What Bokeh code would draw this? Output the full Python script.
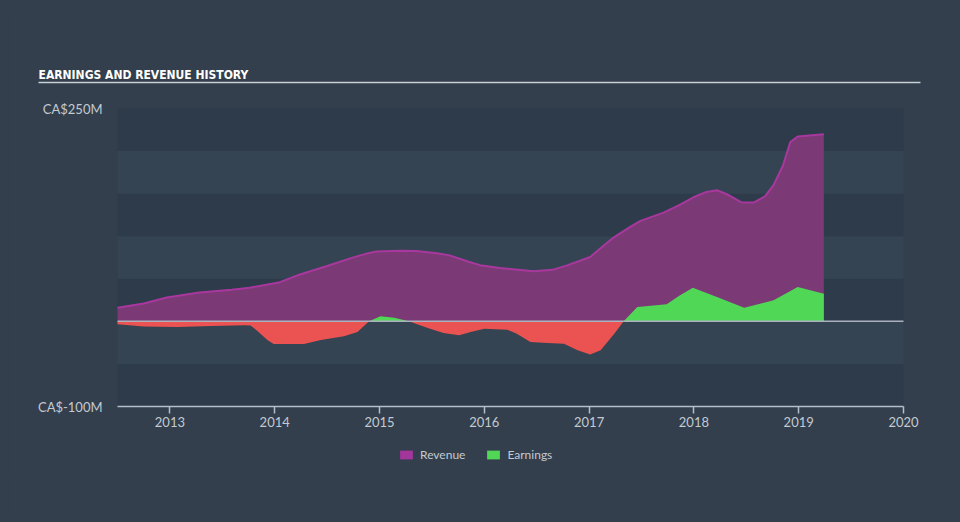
from bokeh.plotting import figure
from bokeh.models import ColumnDataSource, FixedTicker, Legend, LegendItem, LinearAxis
from bokeh.embed import file_html
from bokeh.resources import INLINE
from bokeh.core.properties import value

# ---------------- data ----------------
title_text = "EARNINGS AND REVENUE HISTORY"

rev_years = [2012.50, 2012.75, 2012.97, 2013.28, 2013.59, 2013.76, 2014.05, 2014.24,
             2014.50, 2014.72, 2014.86, 2014.97, 2015.20, 2015.35, 2015.55, 2015.67,
             2015.85, 2015.96, 2016.15, 2016.47, 2016.65, 2016.79, 2017.01, 2017.12,
             2017.24, 2017.38, 2017.49, 2017.71, 2017.85, 2018.00, 2018.12, 2018.22,
             2018.32, 2018.45, 2018.57, 2018.68, 2018.76, 2018.85, 2018.92, 2018.99,
             2019.24]
revenue = [16, 21, 28, 34, 37, 39.5, 46, 55,
           65, 74, 79, 82, 83, 82.5, 80, 77.5,
           70, 66, 62.7, 58.8, 60.5, 65.8, 75.6, 87,
           99, 110, 118, 127.7, 136, 146, 152, 154,
           149, 140, 139.5, 147, 160, 183, 210.7, 217,
           219.7]

earn_years = [2012.50, 2012.75, 2013.07, 2013.39, 2013.71, 2013.77, 2013.83, 2013.93,
              2013.99, 2014.28, 2014.44, 2014.66, 2014.79, 2014.90, 2015.01, 2015.14,
              2015.28, 2015.46, 2015.61, 2015.76, 2015.87, 2016.00, 2016.22, 2016.31,
              2016.44, 2016.60, 2016.76, 2016.89, 2017.01, 2017.11, 2017.24, 2017.33,
              2017.46, 2017.74, 2017.86, 2017.99, 2018.22, 2018.48, 2018.76, 2018.99,
              2019.24]
earnings = [-3.5, -5.9, -6.7, -5.5, -4.7, -5.0, -10.6, -22,
            -26.6, -26.6, -22, -17.6, -12.5, 0, 5.9, 4.3,
            0, -7.8, -13.7, -16.4, -12.5, -8.6, -9.8, -14.5,
            -24.3, -25.5, -26.2, -34, -38.8, -34, -14.5, 0,
            16.8, 20, 30, 39.6, 28.6, 16, 24.7, 40.3,
            32.5]

x_ticks = [2013, 2014, 2015, 2016, 2017, 2018, 2019, 2020]
x_tick_labels = ["2013", "2014", "2015", "2016", "2017", "2018", "2019", "2020"]
y_ticks = [250, -100]
y_tick_labels = ["CA$250M", "CA$-100M"]
band_ticks = [-100, -50, 0, 50, 100, 150, 200, 250]
x_start, x_end = 2012.5, 2020.0
y_start, y_end = -100, 250

# ---------------- styles / geometry ----------------
BG = "#333f4c"
BAND_LIGHT = "#344453"
BAND_DARK = "#2d3b4a"
REV_FILL = "#7b3a75"
REV_LINE = "#a8389e"
REV_LEGEND = "#a2369a"
GREEN = "#50d755"
RED = "#eb5252"
TXT = "#c3cad2"
AXIS = "#b4bfca"
ZERO = "#aab3bd"
FONT = "Lato"

W, H = 944, 506
BOTTOM_BORDER = 40
PLOT_L, PLOT_R = 109, 895          # canvas px of x_start / x_end
PLOT_T, PLOT_B = 100, 398          # canvas px of y_end / y_start
PXX = (PLOT_R - PLOT_L) / (x_end - x_start)
PXY = (PLOT_B - PLOT_T) / (y_end - y_start)
frame_h = H - BOTTOM_BORDER
x_lo = x_start - PLOT_L / PXX
x_hi = x_end + (W - PLOT_R) / PXX
y_hi = y_end + PLOT_T / PXY
y_lo = y_hi - frame_h / PXY


def cx(px):
    return x_lo + px / PXX


def cy(py):
    return y_hi - py / PXY


p = figure(width=W, height=H, x_range=(x_lo, x_hi), y_range=(y_lo, y_hi),
           x_axis_location=None, y_axis_location=None,
           toolbar_location=None, output_backend="svg",
           min_border_left=0, min_border_right=0, min_border_top=0,
           min_border_bottom=BOTTOM_BORDER)
p.background_fill_color = BG
p.border_fill_color = BG
p.outline_line_color = None
p.grid.visible = False

# title + underline
p.text(x=[cx(30)], y=[cy(66)], text=[title_text], text_color="#ffffff",
       text_font=value("DejaVu Sans Condensed"), text_font_style="bold",
       text_font_size="12px", text_baseline="alphabetic", text_align="left")
p.segment(x0=[cx(30)], y0=[cy(74)], x1=[cx(912)], y1=[cy(74)],
          line_color="#c9d0d6", line_width=1.5)

# horizontal bands
b_bottom = band_ticks[:-1]
b_top = band_ticks[1:]
b_color = [BAND_DARK if i % 2 == 0 else BAND_LIGHT for i in range(len(b_bottom))]
p.quad(left=[x_start] * len(b_bottom), right=[x_end] * len(b_bottom),
       bottom=b_bottom, top=b_top, fill_color=b_color, line_color=None)

# y tick labels
p.text(x=[x_start] * len(y_ticks), y=y_ticks, text=y_tick_labels, x_offset=-15,
       text_align="right", text_baseline="middle", text_color=TXT,
       text_font=value(FONT), text_font_size="13px")

# data
rev_src = ColumnDataSource(dict(x=rev_years, y=revenue, z=[0] * len(revenue)))
pos = [max(v, 0) for v in earnings]
neg = [min(v, 0) for v in earnings]
earn_src = ColumnDataSource(dict(x=earn_years, pos=pos, neg=neg, z=[0] * len(earnings)))

p.varea(x="x", y1="z", y2="y", source=rev_src, fill_color=REV_FILL)
p.line(x="x", y="y", source=rev_src, line_color=REV_LINE, line_width=2)
green_r = p.varea(x="x", y1="z", y2="pos", source=earn_src, fill_color=GREEN)
p.varea(x="x", y1="z", y2="neg", source=earn_src, fill_color=RED)
# legend swatch proxy for revenue (zero-height, invisible in the plot)
rev_proxy = p.varea(x="x", y1="y", y2="y", source=rev_src, fill_color=REV_LEGEND)

# zero line and x axis line
p.segment(x0=[x_start, x_start], y0=[0, y_start], x1=[x_end, x_end], y1=[0, y_start],
          line_color=[ZERO, AXIS], line_width=1.5)

xa = LinearAxis(fixed_location=y_start)
xa.ticker = FixedTicker(ticks=x_ticks)
xa.major_label_overrides = {k: v for k, v in zip(x_ticks, x_tick_labels)}
xa.axis_line_color = None
xa.major_tick_line_color = AXIS
xa.major_tick_line_width = 1.5
xa.major_tick_out = 7
xa.major_tick_in = 0
xa.minor_tick_line_color = None
xa.major_label_text_color = TXT
xa.major_label_text_font = FONT
xa.major_label_text_font_size = "13px"
xa.major_label_standoff = 3
p.add_layout(xa, "below")

legend = Legend(items=[LegendItem(label="Revenue", renderers=[rev_proxy]),
                       LegendItem(label="Earnings", renderers=[green_r])],
                location=(390, 10), orientation="horizontal",
                glyph_width=16, glyph_height=11, label_height=20, label_standoff=6,
                spacing=20, padding=0, margin=0,
                label_text_color=TXT, label_text_font=FONT, label_text_font_size="12px",
                background_fill_alpha=0, border_line_alpha=0)
p.add_layout(legend)

html = file_html(p, INLINE)
html = html.replace("</head>",
                    "<style>html{background:%s;} body{background:%s; margin:8px;}</style></head>"
                    % (BG, BG), 1)
open("out.html", "w").write(html)
